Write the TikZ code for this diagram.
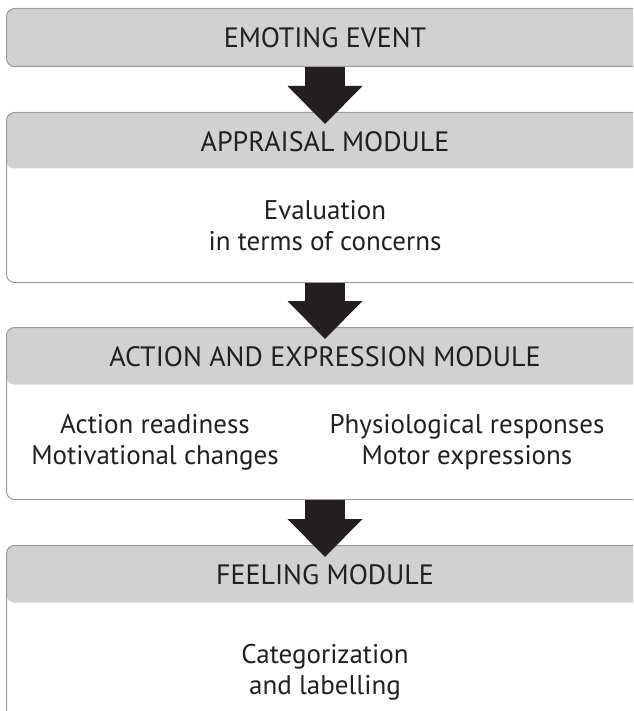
\documentclass[tikz,border=0pt]{standalone}
\usepackage{fontspec}
\setmainfont{PT Sans}
\usepackage{xcolor}
\usepackage{tikz}
\usetikzlibrary{positioning, arrows.meta, calc}
\definecolor{headgray}{RGB}{209,209,209}
\definecolor{edgegray}{RGB}{155,155,155}
\definecolor{inkblack}{RGB}{35,31,32}

\begin{document}
\begin{tikzpicture}[x=1pt, y=-1pt,
  module/.style={draw=edgegray, line width=1pt, rounded corners=8pt, minimum width=680pt, anchor=north west, inner sep=0pt},
  headed/.style={path picture={\fill[headgray] (path picture bounding box.north west) rectangle ([yshift=-#1]path picture bounding box.north east);}},
  title/.style={font=\fontsize{28}{31}\selectfont, text=inkblack, inner sep=0pt},
  body/.style={font=\fontsize{27}{31}\selectfont, text=inkblack, align=center, inner sep=0pt},
  bigarr/.style={draw=inkblack, line width=40pt, -{Triangle[width=75pt, length=38pt, line width=0pt]}}]
  \path[use as bounding box] (0,0) rectangle (633,711);
  \clip (0,0) rectangle (633,711);
  % boxes
  \node[module, fill=headgray, minimum height=58pt] (event) at (6,8) {};
  \node[module, headed=56pt, minimum height=170pt] (appraisal) at (6,112) {};
  \node[module, headed=57pt, minimum height=172pt] (action) at (6,327) {};
  \node[module, headed=57pt, minimum height=220pt] (feeling) at (6,545) {};
  % headers
  \node[title] (eventtxt) at (325,38) {EMOTING EVENT};
  \node[title] (appraisaltxt) at (325,142) {APPRAISAL MODULE};
  \node[title] (actiontxt) at (325,357) {ACTION AND EXPRESSION MODULE};
  \node[title] (feelingtxt) at (325,575) {FEELING MODULE};
  % contents
  \node[body] (evaluation) at (325,226) {Evaluation\\in terms of concerns};
  \node[body] (readiness) at (155,442) {Action readiness\\Motivational changes};
  \node[body] (responses) at (467,442) {Physiological responses\\Motor expressions};
  \node[body] (labelling) at (325,672) {Categorization\\and labelling};
  % arrows
  \draw[bigarr] (eventtxt |- event.south) -- ($(appraisaltxt |- appraisal.north)+(0,12)$);
  \draw[bigarr] (appraisaltxt |- appraisal.south) -- ($(actiontxt |- action.north)+(0,12)$);
  \draw[bigarr] (actiontxt |- action.south) -- ($(feelingtxt |- feeling.north)+(0,12)$);
\end{tikzpicture}
\end{document}
